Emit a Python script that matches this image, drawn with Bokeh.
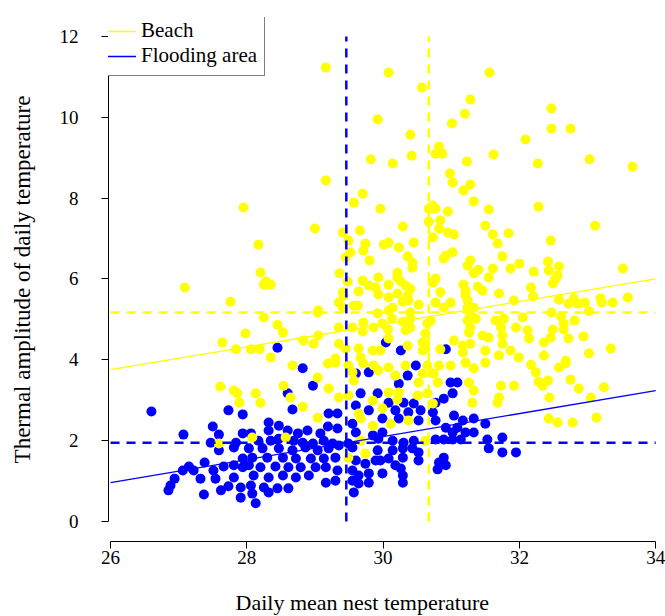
from bokeh.plotting import figure
from bokeh.models import Range1d, FixedTicker, Legend, LegendItem, Title
from bokeh.embed import file_html
from bokeh.resources import INLINE

# ---------------- data ----------------
beach_x = [29.16, 30.08, 31.56, 30.57, 31.28, 31.20, 31.01, 30.40, 30.82, 30.77, 30.87, 30.42, 30.14, 31.23, 31.62,
           32.09, 30.98, 31.02, 31.28, 31.18, 32.47, 32.47, 32.75, 32.27, 33.03, 33.66, 29.92, 29.82, 29.16, 29.70,
           27.95, 27.09, 27.76, 27.98, 27.64, 27.84, 29.57, 29.96, 29.00, 28.17, 29.41, 29.66, 29.49, 29.74, 29.71,
           30.01, 29.52, 29.45, 29.80, 28.20, 28.28, 28.35, 28.25, 29.36, 29.48, 29.70, 29.93, 29.64, 29.79, 29.89,
           29.41, 29.42, 29.93, 29.35, 29.57, 29.63, 29.41, 29.05, 29.04, 28.25, 29.92, 28.45, 28.53, 29.35, 29.55,
           29.71, 29.70, 29.86, 29.99, 28.83, 28.98, 29.05, 29.35, 29.45, 28.06, 28.19, 28.35, 29.64, 29.67, 29.85,
           29.96, 29.30, 30.73, 30.77, 30.67, 30.95, 31.33, 31.55, 30.67, 30.84, 30.29, 30.82, 30.95, 31.04, 31.50,
           31.61, 31.84, 30.73, 30.08, 30.45, 30.23, 31.68, 30.36, 30.92, 31.02, 30.89, 31.75, 31.28, 31.24, 30.43,
           30.43, 32.00, 31.87, 31.40, 31.61, 31.33, 30.21, 30.21, 31.55, 30.77, 30.26, 30.73, 31.18, 31.39, 31.46,
           30.08, 30.33, 30.40, 31.21, 30.84, 30.21, 30.36, 30.08, 31.70, 31.21, 30.29, 30.37, 31.24, 30.52, 30.77,
           30.99, 31.92, 30.14, 30.89, 31.24, 31.33, 30.08, 30.40, 31.28, 30.13, 30.29, 30.40, 30.70, 30.65, 31.36,
           31.24, 31.65, 31.77, 32.05, 30.07, 30.40, 30.33, 30.62, 31.28, 31.26, 31.46, 31.73, 31.75, 31.95, 30.08,
           30.36, 30.58, 30.62, 31.04, 31.17, 31.28, 31.55, 31.75, 31.17, 30.58, 31.50, 31.87, 31.99, 31.70, 30.84,
           32.28, 33.11, 32.46, 32.42, 32.58, 32.21, 32.43, 32.56, 32.53, 32.49, 33.52, 32.17, 32.20, 32.58, 32.80,
           32.72, 32.86, 32.96, 33.19, 33.21, 33.37, 33.59, 32.47, 33.02, 32.61, 32.65, 32.81, 32.65, 32.49, 32.12,
           32.14, 32.46, 32.72, 32.94, 32.36, 33.02, 33.34, 32.36, 32.68, 32.17, 32.24, 32.68, 32.58, 32.28, 32.34,
           32.42, 32.75, 32.87, 33.24, 33.05, 32.44, 32.43, 32.56, 32.78, 33.13, 30.65, 30.82, 30.99, 31.21, 31.50,
           31.33, 30.08, 30.18, 30.33, 30.58, 30.74, 30.80, 30.52, 31.26, 31.33, 31.73, 31.92, 31.70, 31.68, 31.31,
           30.08, 30.23, 30.51, 30.65, 30.73, 30.21, 30.11, 30.37, 30.62, 28.67, 29.19, 29.30, 29.04, 28.54, 29.20,
           28.13, 28.20, 28.64, 28.82, 29.35, 29.04, 28.08, 28.57, 29.49, 29.55, 29.57, 29.49, 29.71, 29.86, 29.93,
           29.64, 29.67, 29.85, 29.67, 29.74, 29.49, 29.85, 29.99, 27.61, 27.81, 27.86, 27.89, 27.59]
beach_y = [11.23, 11.11, 11.11, 10.74, 10.44, 10.09, 9.85, 9.57, 9.28, 9.10, 9.10, 9.05, 8.86, 8.91, 9.08,
           9.45, 8.61, 8.39, 8.34, 8.19, 10.22, 9.72, 9.72, 8.86, 8.96, 8.78, 9.95, 8.96, 8.44, 8.11,
           7.77, 5.79, 5.44, 4.65, 4.43, 4.26, 7.89, 7.74, 7.25, 6.85, 7.15, 7.20, 6.95, 6.88, 6.70,
           6.85, 6.66, 6.53, 6.46, 6.16, 5.94, 5.86, 5.86, 6.14, 5.94, 5.96, 6.04, 5.69, 5.84, 5.79,
           5.67, 5.59, 5.62, 5.42, 5.34, 5.34, 5.29, 5.22, 5.17, 5.05, 5.15, 4.87, 4.68, 4.80, 4.80,
           4.92, 4.70, 4.80, 4.90, 4.48, 4.40, 4.60, 4.40, 4.28, 4.26, 4.26, 4.06, 4.28, 4.06, 4.23,
           4.23, 4.03, 7.82, 7.74, 7.74, 7.67, 7.92, 7.72, 7.42, 7.45, 7.30, 7.25, 7.15, 7.10, 7.32,
           7.10, 7.13, 7.03, 6.90, 6.90, 6.78, 6.88, 6.56, 6.58, 6.66, 6.51, 6.56, 6.46, 6.33, 6.41,
           6.28, 6.38, 6.26, 6.23, 6.26, 6.14, 6.16, 6.04, 6.04, 6.01, 5.94, 5.91, 5.86, 5.81, 5.71,
           5.86, 5.84, 5.76, 5.71, 5.67, 5.64, 5.59, 5.54, 5.64, 5.59, 5.44, 5.47, 5.47, 5.37, 5.42,
           5.42, 5.47, 5.29, 5.29, 5.29, 5.29, 5.22, 5.17, 5.12, 5.02, 4.94, 5.02, 4.97, 4.90, 5.02,
           4.97, 4.97, 5.02, 5.05, 4.75, 4.80, 4.73, 4.65, 4.80, 4.68, 4.60, 4.80, 4.60, 4.80, 4.53,
           4.35, 4.43, 4.28, 4.48, 4.35, 4.40, 4.55, 4.40, 4.18, 4.23, 4.23, 4.23, 4.06, 4.11, 4.26,
           7.79, 7.32, 6.95, 6.43, 6.31, 6.18, 6.21, 6.09, 6.01, 5.89, 6.26, 5.79, 5.57, 5.49, 5.52,
           5.39, 5.39, 5.42, 5.52, 5.42, 5.42, 5.54, 5.17, 5.20, 5.07, 4.90, 4.97, 4.75, 4.75, 4.73,
           4.53, 4.55, 4.53, 4.58, 4.43, 4.16, 4.28, 4.11, 3.98, 3.88, 3.69, 3.91, 3.81, 3.46, 3.36,
           3.49, 3.51, 3.29, 3.32, 3.07, 3.07, 2.55, 2.45, 2.45, 2.57, 3.86, 3.86, 3.86, 3.93, 3.93,
           3.79, 3.81, 3.61, 3.86, 3.66, 3.66, 3.44, 3.44, 3.44, 3.24, 3.36, 3.36, 3.07, 2.94, 2.94,
           3.19, 3.19, 3.12, 3.17, 2.92, 3.02, 2.42, 2.50, 2.00, 3.86, 3.91, 3.93, 3.56, 3.36, 3.29,
           3.17, 2.94, 3.07, 2.84, 3.07, 2.57, 2.08, 2.08, 3.86, 3.69, 3.49, 3.12, 3.91, 3.86, 3.74,
           2.67, 2.55, 2.37, 2.00, 1.68, 1.58, 2.99, 2.80, 3.34, 3.24, 3.17, 2.94, 1.93]

flood_x = [26.60, 27.73, 27.94, 27.50, 27.59, 27.07, 27.94, 27.47, 27.84, 27.81, 27.59, 27.38, 27.15, 27.06, 27.22,
           27.51, 27.66, 27.81, 27.94, 27.94, 26.94, 27.32, 27.54, 27.81, 26.88, 26.85, 27.73, 27.91, 27.62, 27.37,
           27.91, 28.82, 28.97, 28.60, 28.67, 29.20, 29.33, 28.32, 28.47, 28.89, 29.19, 29.33, 28.06, 28.32, 28.60,
           28.75, 29.08, 28.17, 28.35, 28.47, 28.69, 28.82, 28.97, 29.13, 29.26, 28.03, 28.23, 28.47, 28.67, 28.86,
           29.04, 29.20, 29.35, 28.08, 28.30, 28.53, 28.72, 28.94, 29.13, 29.30, 28.03, 28.20, 28.42, 28.61, 28.79,
           29.01, 29.16, 29.33, 28.10, 28.32, 28.53, 28.72, 28.91, 29.16, 29.30, 28.06, 28.25, 28.45, 28.61, 28.08,
           28.32, 28.13, 29.60, 29.79, 29.67, 29.92, 29.60, 29.79, 29.55, 29.60, 29.85, 29.93, 29.49, 29.55, 29.92,
           29.60, 29.74, 29.89, 29.55, 29.64, 29.79, 29.55, 29.64, 29.79, 29.57, 29.99, 29.99, 29.96, 29.99, 30.48,
           30.23, 30.36, 30.99, 31.09, 31.02, 30.89, 30.77, 30.08, 30.30, 30.45, 30.18, 30.37, 30.55, 30.73, 30.23,
           30.52, 30.77, 31.04, 31.17, 31.33, 31.50, 30.92, 31.09, 31.21, 31.33, 31.02, 30.77, 30.89, 31.02, 31.14,
           30.14, 30.30, 30.45, 31.53, 31.75, 31.55, 31.75, 31.95, 30.14, 30.29, 30.43, 30.52, 30.08, 30.29, 30.52,
           30.89, 30.82, 30.92, 30.80, 30.18, 30.26, 30.29, 30.29, 28.45, 30.04, 30.26, 30.92]
flood_y = [2.72, 2.75, 2.65, 2.35, 2.15, 2.15, 2.18, 1.95, 1.95, 1.83, 1.76, 1.46, 1.36, 1.26, 1.26,
           1.26, 1.36, 1.39, 1.56, 1.34, 1.06, 1.06, 1.06, 1.09, 0.89, 0.77, 0.87, 0.84, 0.77, 0.67,
           0.59, 3.79, 3.36, 3.17, 2.77, 2.67, 2.67, 2.45, 2.37, 2.25, 2.35, 2.30, 2.18, 2.25, 2.25,
           2.18, 2.18, 2.00, 2.00, 2.05, 2.00, 1.95, 1.93, 2.00, 1.93, 1.81, 1.81, 1.81, 1.76, 1.83,
           1.76, 1.81, 1.88, 1.58, 1.58, 1.58, 1.56, 1.56, 1.56, 1.58, 1.39, 1.34, 1.36, 1.34, 1.34,
           1.34, 1.34, 1.26, 1.14, 1.09, 1.14, 1.09, 1.14, 0.96, 1.01, 0.89, 0.84, 0.82, 0.82, 0.69,
           0.72, 0.45, 3.66, 3.69, 3.17, 3.17, 2.87, 2.75, 2.42, 2.20, 2.13, 2.05, 1.93, 1.83, 1.76,
           1.51, 1.43, 1.51, 1.26, 1.14, 1.19, 1.01, 0.94, 0.96, 0.72, 2.55, 2.20, 1.51, 1.19, 3.86,
           3.41, 3.61, 3.44, 3.44, 3.17, 3.04, 2.94, 2.94, 2.94, 2.92, 2.75, 2.70, 2.75, 2.70, 2.55,
           2.50, 2.50, 2.62, 2.50, 2.55, 2.42, 2.32, 2.32, 2.20, 2.20, 2.20, 2.03, 2.03, 2.03, 2.03,
           2.00, 1.95, 2.00, 2.03, 2.08, 1.81, 1.71, 1.71, 1.76, 1.81, 1.81, 1.71, 1.56, 1.58, 1.51,
           1.58, 1.46, 1.39, 1.29, 1.39, 1.31, 1.14, 0.96, 4.30, 4.43, 4.23, 4.26]

# group means (dashed reference lines)
beach_mean_temp = 30.67
beach_mean_amp = 5.17
flood_mean_temp = 29.46
flood_mean_amp = 1.95

# linear fits (intercept, slope)
beach_fit = (-3.55, 0.281)
flood_fit = (-6.45, 0.285)

x_ticks = [26, 28, 30, 32, 34]
y_ticks = [0, 2, 4, 6, 8, 10, 12]

x_title = "Daily mean nest temperature"
y_title = "Thermal amplitude of daily temperature"

YELLOW = "#FFFF00"
BLUE = "#0000FF"
FONT = "Liberation Serif"

# ---------------- figure ----------------
p = figure(width=665, height=616, output_backend="svg", toolbar_location=None,
           x_range=Range1d(25.97, 34.10), y_range=Range1d(-0.495, 12.47),
           min_border_left=108, min_border_right=3, min_border_top=17, min_border_bottom=75)
p.outline_line_color = None
p.grid.visible = False
p.background_fill_color = "white"
p.border_fill_color = "white"

# points
p.scatter(flood_x, flood_y, size=10, fill_color=BLUE, line_color=None)
p.scatter(beach_x, beach_y, size=10, fill_color=YELLOW, line_color=None)

# mean reference lines
x0, x1 = x_ticks[0], x_ticks[-1]
y0, y1 = y_ticks[0], y_ticks[-1]
p.segment([flood_mean_temp], [y0], [flood_mean_temp], [y1], line_color=BLUE, line_width=2.5, line_dash="9 7")
p.segment([beach_mean_temp], [y0], [beach_mean_temp], [y1], line_color=YELLOW, line_width=2.5, line_dash="9 7")
p.segment([x0], [beach_mean_amp], [x1], [beach_mean_amp], line_color=YELLOW, line_width=2.5, line_dash="9 7")
p.segment([x0], [flood_mean_amp], [x1], [flood_mean_amp], line_color=BLUE, line_width=2.5, line_dash="9 7")

# regression lines
rb = p.line([x0, x1], [beach_fit[0] + beach_fit[1] * x0, beach_fit[0] + beach_fit[1] * x1],
            line_color=YELLOW, line_width=1.3)
rf = p.line([x0, x1], [flood_fit[0] + flood_fit[1] * x0, flood_fit[0] + flood_fit[1] * x1],
            line_color=BLUE, line_width=1.3)

legend = Legend(items=[LegendItem(label="Beach", renderers=[rb]),
                       LegendItem(label="Flooding area", renderers=[rf])],
                location=(-18, 465))
legend.label_text_font = FONT
legend.label_text_font_size = "21px"
legend.label_text_color = "black"
legend.glyph_width = 38
legend.glyph_height = 24
legend.label_height = 24
legend.label_standoff = 5
legend.spacing = 0
legend.padding = 7
legend.margin = 0
legend.border_line_color = "black"
legend.border_line_width = 1.5
legend.background_fill_alpha = 1.0
p.add_layout(legend, "center")

# axes
for ax in (p.xaxis[0], p.yaxis[0]):
    ax.axis_line_color = "black"
    ax.axis_line_width = 1
    ax.major_tick_line_color = "black"
    ax.major_tick_in = 0
    ax.major_tick_out = 7
    ax.minor_tick_line_color = None
    ax.major_label_text_font = FONT
    ax.major_label_text_font_size = "19px"
    ax.major_label_text_color = "black"
    ax.axis_label_text_font = FONT
    ax.axis_label_text_font_style = "normal"
    ax.axis_label_text_color = "black"

p.xaxis.ticker = FixedTicker(ticks=x_ticks)
p.yaxis.ticker = FixedTicker(ticks=y_ticks)
p.xaxis.bounds = (x_ticks[0], x_ticks[-1])
p.yaxis.bounds = (y_ticks[0], y_ticks[-1])
p.xaxis.major_label_standoff = 2
p.yaxis.major_label_standoff = 23
p.yaxis.major_label_orientation = "horizontal"

p.yaxis.axis_label = y_title
p.yaxis.axis_label_text_font_size = "23px"
p.yaxis.axis_label_standoff = 22

# x title under the axis, placed a bit left of the frame centre as in the original
p.add_layout(Title(text=x_title, align="left", offset=127, standoff=0, vertical_align="top",
                   padding=dict(left=0, right=0, top=23, bottom=0),
                   text_font=FONT, text_font_size="22px", text_font_style="normal",
                   text_color="black"), "below")

open("out.html", "w").write(file_html(p, INLINE))
